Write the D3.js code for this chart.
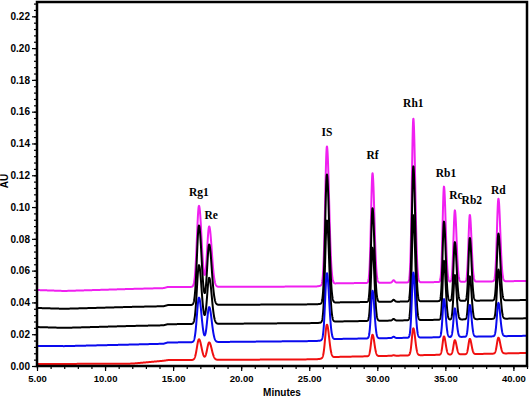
<!DOCTYPE html>
<html>
<head>
<meta charset="utf-8">
<script src="https://cdn.jsdelivr.net/npm/d3@7"></script>
<style>
    body { margin: 0; background: #fff; }
    .tick text { font-family: "Liberation Sans", Arial, sans-serif; font-weight: bold; }
    .peakLabel { font-family: "Liberation Serif", "Times New Roman", serif; font-weight: bold; font-size: 11.5px; }
</style>
</head>
<body>
<script>
//peak names, retention times (min) and widths (sigma, min)
var peakNames = ["Rg1", "Re", "IS", "Rf", "Rh1", "Rb1", "Rc", "Rb2", "Rd"];
var peakTimes = [16.9, 17.65, 26.3, 29.65, 32.65, 34.9, 35.7, 36.8, 38.9];
var peakSigma = [0.15, 0.15, 0.13, 0.11, 0.11, 0.1, 0.1, 0.1, 0.11];

//peak heights above baseline (AU) for each trace
var hMagenta = [0.051, 0.038, 0.087, 0.069, 0.103, 0.060, 0.045, 0.042, 0.052];
var hBlack2  = [0.050, 0.038, 0.081, 0.059, 0.085, 0.050, 0.037, 0.0395, 0.042];
var hBlack1  = [0.037, 0.029, 0.064, 0.046, 0.066, 0.037, 0.028, 0.027, 0.031];
var hBlue    = [0.028, 0.022, 0.042, 0.030, 0.041, 0.024, 0.018, 0.020, 0.021];
var hRed     = [0.013, 0.011, 0.021, 0.0135, 0.017, 0.0115, 0.009, 0.0096, 0.010];

//small impurity bump near 31.2 min
var bumpTime = 31.2;
var bumpHeights = [0.0015, 0.0012, 0.001, 0.0008, 0.0003];

//baseline read at a few times (min) for each trace
var baseTimes   = [5, 7, 12, 14.3, 14.6, 25.5, 27, 41];
var baseMagenta = [0.0478, 0.0472, 0.0485, 0.0490, 0.0497, 0.0500, 0.0520, 0.0535];
var baseBlack2  = [0.0365, 0.0360, 0.0372, 0.0376, 0.0383, 0.0388, 0.0400, 0.0415];
var baseBlack1  = [0.0245, 0.0240, 0.0252, 0.0256, 0.0263, 0.0270, 0.0280, 0.0300];
var baseBlue    = [0.0126, 0.0125, 0.0135, 0.0140, 0.0148, 0.0157, 0.0170, 0.0190];
var baseRed     = [0.0013, 0.0013, 0.0015, 0.0033, 0.0037, 0.0042, 0.0057, 0.0082];

//axis ticks
var xTicks = [5, 10, 15, 20, 25, 30, 35, 40];
var yTicks = [0, 0.02, 0.04, 0.06, 0.08, 0.10, 0.12, 0.14, 0.16, 0.18, 0.20, 0.22];

//traces in drawing order (bottom layer first)
var traces = [
    {color: "#f020f0", base: baseMagenta, h: hMagenta, bump: bumpHeights[0]},
    {color: "#000000", base: baseBlack2, h: hBlack2, bump: bumpHeights[1]},
    {color: "#000000", base: baseBlack1, h: hBlack1, bump: bumpHeights[2]},
    {color: "#0a0aee", base: baseBlue, h: hBlue, bump: bumpHeights[3]},
    {color: "#f01010", base: baseRed, h: hRed, bump: bumpHeights[4]}
];

//label nudges in px (layout only)
var labelDx = [0, 2, 0, 0, 0, 2, 1, 2, 0];
var labelDy = [-10, -7, -11, -14, -12, -10, -11, -11, -5];

var width = 532,
    height = 407,
    mLeft = 37, mRight = 527, mTop = 2, mBottom = 366;

var svg = d3.select("body")
    .append("svg")
    .attr("width", width)
    .attr("height", height);

var x = d3.scaleLinear().domain([5, 41]).range([mLeft, mRight]);
var y = d3.scaleLinear().domain([0, 0.229]).range([mBottom, mTop]);

svg.append("clipPath").attr("id", "plotClip")
    .append("rect")
    .attr("x", mLeft).attr("y", mTop)
    .attr("width", mRight - mLeft).attr("height", mBottom - mTop);

//sample grid for drawing the signal
var times = d3.range(5, 41.001, 0.01);

function signal(tr, t){
    var b = d3.scaleLinear().domain(baseTimes).range(tr.base).clamp(true)(t);
    for (var i = 0; i < peakTimes.length; i++){
        var s = peakSigma[i];
        //slight tailing: wider on the right side
        var sd = t > peakTimes[i] ? s * 1.25 : s;
        b += tr.h[i] * Math.exp(-Math.pow(t - peakTimes[i], 2) / (2 * sd * sd));
    }
    b += tr.bump * Math.exp(-Math.pow(t - bumpTime, 2) / (2 * 0.08 * 0.08));
    return b;
}

var line = d3.line()
    .x(function(d){ return x(d[0]); })
    .y(function(d){ return y(d[1]); });

var plot = svg.append("g").attr("clip-path", "url(#plotClip)");

traces.forEach(function(tr){
    var pts = times.map(function(t){ return [t, signal(tr, t)]; });
    plot.append("path")
        .datum(pts)
        .attr("fill", "none")
        .attr("stroke", tr.color)
        .attr("stroke-width", 2)
        .attr("stroke-linejoin", "round")
        .attr("d", line);
});

//peak labels above the magenta trace
peakNames.forEach(function(name, i){
    var topVal = signal(traces[0], peakTimes[i]);
    svg.append("text")
        .attr("class", "peakLabel")
        .attr("x", x(peakTimes[i]) + labelDx[i])
        .attr("y", y(topVal) + labelDy[i])
        .attr("text-anchor", "middle")
        .text(name);
});

//x axis: major and minor ticks
svg.append("g")
    .attr("transform", "translate(0," + mBottom + ")")
    .call(d3.axisBottom(x).tickValues(d3.range(5, 41.01, 1)).tickSize(3).tickFormat(""))
    .call(function(g){ g.select(".domain").remove(); });
var xAxis = svg.append("g")
    .attr("transform", "translate(0," + mBottom + ")")
    .call(d3.axisBottom(x).tickValues(xTicks).tickSize(5).tickPadding(4).tickFormat(d3.format(".2f")));
xAxis.select(".domain").remove();
xAxis.selectAll("text").style("font-size", "9.5px");

//y axis: major and minor ticks
svg.append("g")
    .attr("transform", "translate(" + mLeft + ",0)")
    .call(d3.axisLeft(y).tickValues(d3.range(0, 0.2281, 0.004)).tickSize(3).tickFormat(""))
    .call(function(g){ g.select(".domain").remove(); });
var yAxis = svg.append("g")
    .attr("transform", "translate(" + mLeft + ",0)")
    .call(d3.axisLeft(y).tickValues(yTicks).tickSize(5).tickPadding(2).tickFormat(d3.format(".2f")));
yAxis.select(".domain").remove();
yAxis.selectAll("text").style("font-size", "10px");

svg.selectAll(".tick line").attr("stroke-width", 1.2);

//frame
svg.append("rect")
    .attr("x", mLeft).attr("y", mTop)
    .attr("width", mRight - mLeft).attr("height", mBottom - mTop)
    .attr("fill", "none")
    .attr("stroke", "#000")
    .attr("stroke-width", 2.5);

//axis titles
svg.append("text")
    .attr("x", (mLeft + mRight) / 2)
    .attr("y", 396)
    .attr("text-anchor", "middle")
    .style("font-family", "Liberation Sans, Arial, sans-serif")
    .style("font-weight", "bold")
    .style("font-size", "10px")
    .text("Minutes");

svg.append("text")
    .attr("transform", "translate(8,181) rotate(-90)")
    .attr("text-anchor", "middle")
    .style("font-family", "Liberation Sans, Arial, sans-serif")
    .style("font-weight", "bold")
    .style("font-size", "10px")
    .text("AU");
</script>
</body>
</html>
